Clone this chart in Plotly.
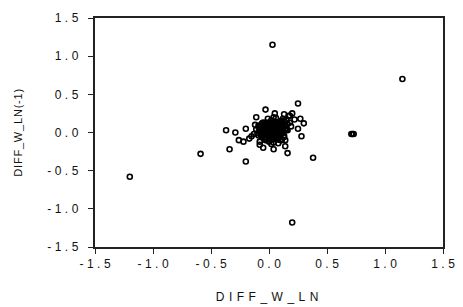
import plotly.graph_objects as go

# Outlying observations
outer_x = [0.03, 1.15, -1.20, 0.71, 0.72, 0.73, 0.20, -0.59, 0.38, 0.16, -0.20, -0.34, -0.37, -0.29, -0.26,
           0.25, 0.22, 0.20, -0.11, -0.03, 0.05, 0.25, -0.20, -0.15, -0.05, 0.04, 0.11, 0.30, 0.28, -0.22,
           -0.17, 0.18, 0.27, -0.08, 0.14]
outer_y = [1.15, 0.70, -0.58, -0.02, -0.02, -0.02, -1.18, -0.28, -0.33, -0.27, -0.38, -0.22, 0.03, 0.00, -0.10,
           0.38, 0.17, 0.25, 0.20, 0.30, 0.25, 0.05, 0.05, -0.05, -0.20, -0.22, -0.10, 0.12, -0.05, -0.12,
           -0.08, 0.22, 0.18, -0.16, -0.18]

# Dense central cluster
core_x = [0.00, 0.02, -0.02, 0.04, -0.04, 0.06, -0.06, 0.08, -0.08, 0.10, 0.01, -0.01, 0.03, -0.03, 0.05,
          -0.05, 0.07, -0.07, 0.09, -0.09, 0.12, 0.14, -0.10, 0.00, 0.02, 0.04, 0.06, -0.02, -0.04, 0.08,
          0.11, 0.13, -0.11, 0.01, 0.03, 0.05, -0.03, -0.05, 0.07, 0.09, 0.00, 0.10, -0.06, 0.15, 0.12,
          0.16, 0.18, 0.14, -0.12, 0.06, 0.02, -0.08, 0.04, 0.17, 0.19, 0.13, -0.13, 0.08, 0.11, -0.01,
          -0.07, -0.04, -0.01, 0.02, 0.05, 0.08, 0.11, -0.07, -0.04, -0.01, 0.02, 0.05, 0.08, 0.11, 0.14,
          -0.07, -0.04, -0.01, 0.02, 0.05, 0.08, 0.11, -0.09, -0.06, -0.03, 0.00, 0.03, 0.06, 0.09, 0.12,
          -0.06, -0.03, 0.00, 0.03, 0.06, 0.09, -0.05, -0.02, 0.01, 0.04, 0.07, 0.10, -0.02, 0.01, 0.04,
          0.07, 0.10, 0.13, -0.09, -0.06, -0.03, 0.00, 0.03, 0.06, 0.09, 0.12, 0.15, 0.16, 0.13, 0.10]
core_y = [0.00, 0.03, -0.02, 0.06, 0.04, -0.04, -0.06, 0.08, 0.02, 0.05, 0.10, 0.12, -0.08, -0.10, 0.14,
          0.09, 0.11, -0.03, -0.05, 0.07, 0.02, 0.08, -0.01, -0.12, 0.16, -0.13, 0.13, 0.07, -0.07, -0.09,
          0.15, -0.04, 0.04, -0.05, 0.01, 0.02, -0.03, 0.01, 0.04, 0.12, 0.06, -0.10, 0.12, 0.16, 0.18,
          0.03, 0.13, -0.10, 0.10, 0.19, -0.15, -0.12, 0.20, 0.22, 0.08, 0.24, -0.02, -0.14, 0.09, 0.18,
          0.02, 0.02, 0.02, 0.02, 0.02, 0.02, 0.02, -0.02, -0.02, -0.02, -0.02, -0.02, -0.02, -0.02, 0.05,
          0.06, 0.06, 0.06, 0.06, 0.06, 0.06, 0.06, 0.09, 0.10, 0.10, 0.10, 0.10, 0.10, 0.10, 0.11,
          -0.06, -0.06, -0.06, -0.06, -0.06, -0.06, 0.13, 0.13, 0.13, 0.13, 0.13, 0.13, -0.09, -0.09, -0.09,
          -0.09, -0.09, -0.06, -0.04, 0.00, 0.00, 0.00, 0.00, 0.00, 0.00, 0.00, 0.04, 0.11, 0.16, 0.15]

x_vals = outer_x + core_x
y_vals = outer_y + core_y

tick_vals = [-1.5, -1.0, -0.5, 0.0, 0.5, 1.0, 1.5]
tick_text = ["-1.5", "-1.0", "-0.5", "0.0", "0.5", "1.0", "1.5"]
x_title = "DIFF_W_LN"
y_title = "DIFF_W_LN(-1)"

FONT = "Liberation Sans, Arial"

fig = go.Figure(go.Scatter(
    x=x_vals, y=y_vals, mode="markers",
    marker=dict(symbol="circle-open", size=5, color="black", line=dict(width=1.6, color="black")),
))

axis_common = dict(
    range=[-1.5, 1.5], tickvals=tick_vals, ticktext=tick_text,
    showgrid=False, zeroline=False, showline=True, linecolor="#222", linewidth=1.5,
    mirror=True, ticks="outside", ticklen=5, tickcolor="#222", tickwidth=1.2,
    tickfont=dict(family=FONT, size=12, color="#111"),
)

fig.update_layout(
    width=463, height=307,
    margin=dict(l=95, r=11, t=15, b=60),
    paper_bgcolor="white", plot_bgcolor="white",
    showlegend=False,
    xaxis=dict(**axis_common),
    yaxis=dict(**axis_common, ticklabelstandoff=4),
    annotations=[
        dict(text=x_title, xref="paper", yref="paper", x=0.5, y=0, xanchor="center", yanchor="middle",
             yshift=-50, showarrow=False, font=dict(family=FONT, size=12, color="#111")),
        dict(text=y_title, xref="paper", yref="paper", x=0, y=0.5, xanchor="center", yanchor="middle",
             xshift=-78, textangle=-90, showarrow=False, font=dict(family=FONT, size=11, color="#111")),
    ],
)

post = """
document.body.style.margin = '0';
document.body.style.overflow = 'hidden';
var gd = document.getElementsByClassName('plotly-graph-div')[0];
gd.querySelectorAll('.xtick text').forEach(function(t){t.style.letterSpacing='3.5px'; t.setAttribute('dx','1.75');});
gd.querySelectorAll('.ytick text').forEach(function(t){t.style.letterSpacing='3.5px';});
var ann = gd.querySelectorAll('.annotation-text');
if (ann.length > 0) { ann[0].style.letterSpacing='4.5px'; }
if (ann.length > 1) { ann[1].style.letterSpacing='0.8px'; }
"""

fig.write_html("out.html", post_script=post, config={"displayModeBar": False})
